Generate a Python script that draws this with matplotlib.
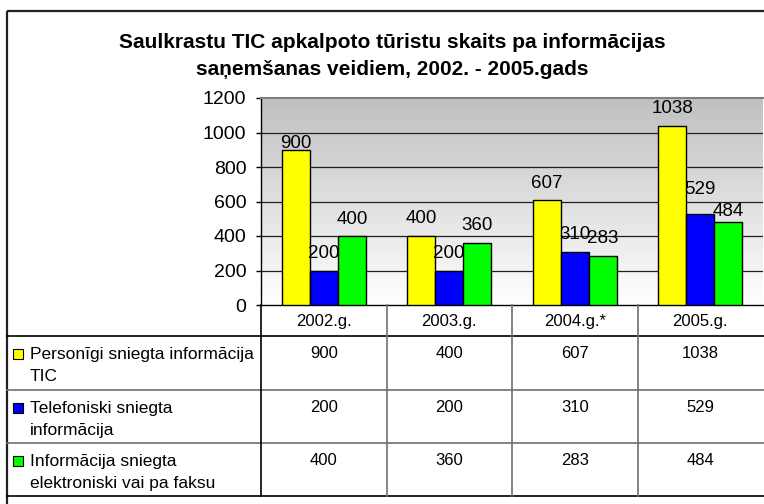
import numpy as np
import matplotlib
matplotlib.use("Agg")
import matplotlib.pyplot as plt
from matplotlib.colors import LinearSegmentedColormap
from matplotlib.patches import Rectangle
from matplotlib.transforms import blended_transform_factory

plt.rcParams['font.family'] = ['Liberation Sans', 'DejaVu Sans']

# ---------------- data ----------------
title_lines = ["Saulkrastu TIC apkalpoto tūristu skaits pa informācijas",
               "saņemšanas veidiem, 2002. - 2005.gads"]
categories = ["2002.g.", "2003.g.", "2004.g.*", "2005.g."]
series_names = [["Personīgi sniegta informācija", "TIC"],
                ["Telefoniski sniegta", "informācija"],
                ["Informācija sniegta", "elektroniski vai pa faksu"]]
personigi = [900, 400, 607, 1038]
telefoniski = [200, 200, 310, 529]
elektroniski = [400, 360, 283, 484]
series_values = [personigi, telefoniski, elektroniski]
y_ticks = [0, 200, 400, 600, 800, 1000, 1200]

# ---------------- style ----------------
colors = ["#FFFF00", "#0000FF", "#00FF00"]
# label lift above bar tops in pixels (as in the reference)
label_lift_px = [[2, 13, 12, 13],
                 [13, 13, 13, 20],
                 [12, 13, 13, 5.6]]

W, H = 764, 504
fig = plt.figure(figsize=(W / 100, H / 100), dpi=100)

# overlay axes in pixel coordinates
ov = fig.add_axes([0, 0, 1, 1], zorder=5)
ov.set_xlim(0, W)
ov.set_ylim(H, 0)
ov.axis('off')
ov.patch.set_alpha(0)

L, R, T, B = 261, 763, 98, 305
ax = fig.add_axes([L / W, 1 - B / H, (R - L) / W, (B - T) / H], zorder=2)

x = np.arange(len(categories))
bw = 0.224
ax.set_xlim(-0.5, len(categories) - 0.5)
ax.set_ylim(0, 1200)

# gradient background
grad = np.linspace(0, 1, 256).reshape(-1, 1)
cmap = LinearSegmentedColormap.from_list("g", ["#FFFFFF", "#C0C0C0"])
ax.imshow(grad, extent=[-0.5, len(categories) - 0.5, 0, 1200], origin='lower',
          aspect='auto', cmap=cmap, zorder=0)

for yv in y_ticks[1:-1]:
    ax.axhline(yv, color='#202020', lw=0.9, zorder=1)

for i, vals in enumerate(series_values):
    xs = x + (i - 1) * bw
    ax.bar(xs, vals, width=bw, color=colors[i], edgecolor='black', lw=1, zorder=3)
    for j, v in enumerate(vals):
        ax.annotate(str(v), (xs[j], v), xytext=(0, label_lift_px[i][j] * 0.72),
                    textcoords='offset points', ha='center', va='baseline',
                    fontsize=13.5, zorder=4)

ax.set_yticks(y_ticks)
ax.tick_params(axis='y', length=3.6, width=1, pad=7, labelsize=14, direction='out')
ax.set_xticks([])
ax.spines['right'].set_visible(False)
ax.spines['top'].set_color('#808080')
ax.spines['top'].set_linewidth(1.5)
ax.spines['left'].set_linewidth(1)
ax.spines['bottom'].set_linewidth(1)

# ---------------- title ----------------
ov.text(392.5, 48, title_lines[0], ha='center', va='baseline',
        fontsize=15, fontweight='bold')
ov.text(392.5, 75, title_lines[1], ha='center', va='baseline',
        fontsize=15, fontweight='bold')

# outer border
ov.add_patch(Rectangle((7, 11), 800, 520, fill=False, lw=1.6, edgecolor='#202020',
                       clip_on=False))

# ---------------- data table ----------------
tr = blended_transform_factory(ax.transData, ov.transData)
row_tops = [336, 390, 443]
left_x = 7
# horizontal lines
ov.plot([left_x, W + 5], [336, 336], color='black', lw=1.2)
ov.plot([left_x, W + 5], [390, 390], color='#707070', lw=1.2)
ov.plot([left_x, W + 5], [443, 443], color='#707070', lw=1.2)
ov.plot([left_x, W + 5], [496, 496], color='black', lw=1.2)
# vertical lines
ov.plot([L, L], [B, 496], color='black', lw=1.2)
for k in range(1, len(categories)):
    ax_x = k - 0.5
    ov.plot([ax_x, ax_x], [B, 496], color='#707070', lw=1.2, transform=tr)

for j, c in enumerate(categories):
    ov.text(x[j], 326, c, ha='center', va='baseline', fontsize=12, transform=tr)

for i, vals in enumerate(series_values):
    top = row_tops[i]
    ov.add_patch(Rectangle((13, top + 13), 10, 10, facecolor=colors[i],
                           edgecolor='black', lw=0.8))
    ov.text(30, top + 23, series_names[i][0], ha='left', va='baseline', fontsize=12.5)
    ov.text(30, top + 45, series_names[i][1], ha='left', va='baseline', fontsize=12.5)
    for j, v in enumerate(vals):
        ov.text(x[j], top + 22, str(v), ha='center', va='baseline', fontsize=12,
                transform=tr)

fig.savefig("out.png", dpi=100)
